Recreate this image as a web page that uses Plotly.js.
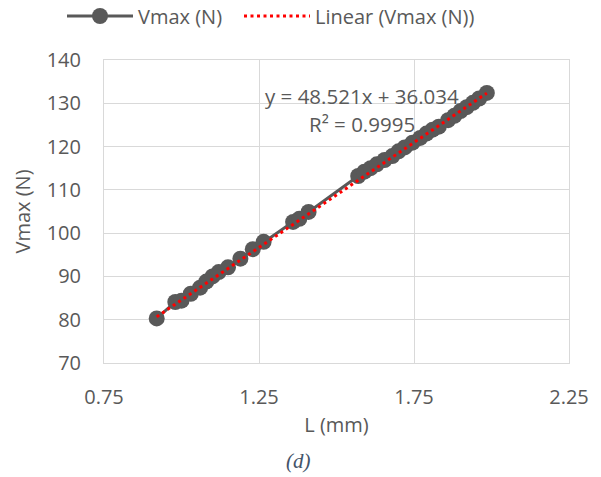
<!DOCTYPE html>
<html>
<head>
<meta charset="utf-8">
<script src="https://cdn.plot.ly/plotly-3.0.1.min.js"></script>
<style>html,body{margin:0;padding:0;background:#fff;}#chart{width:601px;height:477px;}</style>
</head>
<body>
<div id="chart"></div>
<script>
// Data
var L_mm = [0.92, 0.98, 1.00, 1.03, 1.06, 1.08, 1.10, 1.12, 1.15, 1.19, 1.23, 1.265,
            1.36, 1.38, 1.41, 1.57, 1.59, 1.61, 1.63, 1.655, 1.68, 1.70, 1.72, 1.745,
            1.77, 1.79, 1.81, 1.83, 1.86, 1.88, 1.90, 1.92, 1.94, 1.96, 1.985];
var Vmax_N = [80.3, 84.1, 84.4, 86.0, 87.4, 88.8, 90.0, 91.0, 92.1, 94.1, 96.3, 98.0,
              102.6, 103.3, 104.9, 113.2, 114.2, 115.0, 115.9, 116.9, 117.8, 118.9, 119.8, 120.9,
              122.0, 123.0, 123.9, 124.6, 126.1, 127.1, 128.2, 129.1, 130.1, 131.1, 132.4];
var trendSlope = 48.521;
var trendIntercept = 36.034;
var r2Text = "0.9995";
var seriesName = "Vmax (N)";
var trendName = "Linear (Vmax (N))";
var xTicks = [0.75, 1.25, 1.75, 2.25];
var yTicks = [70, 80, 90, 100, 110, 120, 130, 140];

var xMin = Math.min.apply(null, L_mm), xMax = Math.max.apply(null, L_mm);
var trendX = [xMin, xMax];
var trendY = trendX.map(function (x) { return trendSlope * x + trendIntercept; });

var FONT = "Open Sans, Lato, sans-serif";
var GREY = "#595959";

var traces = [
  {
    x: L_mm, y: Vmax_N, name: seriesName, type: "scatter", mode: "lines+markers",
    line: {color: GREY, width: 3},
    marker: {color: GREY, size: 16},
    legend: "legend"
  },
  {
    x: trendX, y: trendY, name: trendName, type: "scatter", mode: "lines",
    line: {color: "#ff0000", width: 3, dash: "3px,3.5px"},
    legend: "legend2"
  }
];

function legendAt(px) {
  return {
    orientation: "h", xref: "container", yref: "container",
    x: px / 601, xanchor: "left", y: 1 - 16 / 477, yanchor: "middle",
    itemwidth: 66,
    font: {family: FONT, size: 20, color: GREY},
    bgcolor: "rgba(0,0,0,0)"
  };
}

var layout = {
  width: 601, height: 477,
  margin: {l: 104, r: 32, t: 59.5, b: 114.3, pad: 0, autoexpand: false},
  paper_bgcolor: "#ffffff", plot_bgcolor: "#ffffff",
  font: {family: FONT, size: 20, color: GREY},
  showlegend: true,
  legend: legendAt(62),
  legend2: legendAt(239),
  xaxis: {
    range: [0.75, 2.25], tickvals: xTicks, ticktext: xTicks.map(function (v) { return v.toFixed(2); }),
    showgrid: true, gridcolor: "#d9d9d9", gridwidth: 1,
    showline: true, linecolor: "#d9d9d9", linewidth: 1, mirror: true,
    zeroline: false, ticks: "", ticklabelstandoff: 16,
    tickfont: {family: FONT, size: 20, color: GREY},
    title: {text: "L (mm)", font: {family: FONT, size: 20, color: GREY}, standoff: 8},
    automargin: false
  },
  yaxis: {
    range: [70, 140], tickvals: yTicks,
    showgrid: true, gridcolor: "#d9d9d9", gridwidth: 1,
    showline: true, linecolor: "#d9d9d9", linewidth: 1, mirror: true,
    zeroline: false, ticks: "", ticklabelstandoff: 18,
    tickfont: {family: FONT, size: 20, color: GREY},
    title: {text: "Vmax (N)", font: {family: FONT, size: 20, color: GREY}, standoff: 10},
    automargin: false
  },
  annotations: [
    {
      xref: "paper", yref: "paper", x: (362.5 - 104.3) / 464.7, y: (362.7 - 96) / 303.2,
      xanchor: "center", yanchor: "middle", showarrow: false,
      text: "y = " + trendSlope + "x + " + trendIntercept,
      font: {family: FONT, size: 20.5, color: GREY}
    },
    {
      xref: "paper", yref: "paper", x: (362.5 - 104.3) / 464.7, y: (362.7 - 123.5) / 303.2,
      xanchor: "center", yanchor: "middle", showarrow: false,
      text: "R² = " + r2Text,
      font: {family: FONT, size: 20.5, color: GREY}
    },
    {
      xref: "paper", yref: "paper", x: (299 - 104.3) / 464.7, y: (362.7 - 461) / 303.2,
      xanchor: "center", yanchor: "middle", showarrow: false,
      text: "<i>(d)</i>",
      font: {family: "Liberation Serif, DejaVu Serif, serif", size: 21, color: "#44546a"}
    }
  ]
};

Plotly.newPlot("chart", traces, layout, {staticPlot: true, displayModeBar: false});
</script>
</body>
</html>
